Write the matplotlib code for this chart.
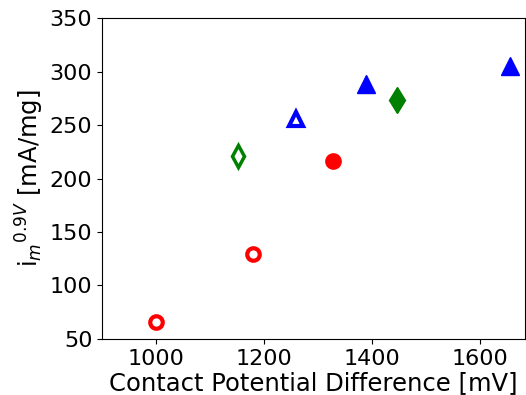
import matplotlib
matplotlib.use("Agg")
import matplotlib.pyplot as plt

## data
cpd_open_circ = [1000, 1180]
im_open_circ = [66, 129]
cpd_fill_circ = [1327]
im_fill_circ = [216]

cpd_open_dia = [1151]
im_open_dia = [221]
cpd_fill_dia = [1447]
im_fill_dia = [273]

cpd_open_tri = [1260]
im_open_tri = [256]
cpd_fill_tri = [1388, 1655]
im_fill_tri = [288, 305]

plt.rcParams['font.size'] = 16

fig = plt.figure(figsize=(5.26, 3.95), dpi=100)
ax = fig.add_axes([0.194, 0.142, 0.804, 0.812])

ax.plot(cpd_open_circ, im_open_circ, 'o', ls='none', mfc='none', mec='red', mew=3, ms=9)
ax.plot(cpd_fill_circ, im_fill_circ, 'o', ls='none', color='red', ms=11)
ax.plot(cpd_open_dia, im_open_dia, 'd', ls='none', mfc='none', mec='green', mew=2.5, ms=11)
ax.plot(cpd_fill_dia, im_fill_dia, 'd', ls='none', color='green', ms=13)
ax.plot(cpd_open_tri, im_open_tri, '^', ls='none', mfc='none', mec='blue', mew=3, ms=10)
ax.plot(cpd_fill_tri, im_fill_tri, '^', ls='none', color='blue', ms=13)

ax.set_xlim(900, 1683)
ax.set_ylim(50, 350)
ax.set_xticks([1000, 1200, 1400, 1600])
ax.set_yticks([50, 100, 150, 200, 250, 300, 350])
ax.set_xlabel('Contact Potential Difference [mV]', fontsize=17.5, labelpad=2)
ax.set_ylabel(r'i$_m$$^{0.9V}$ [mA/mg]', fontsize=17.5, labelpad=3)

fig.savefig('out.png', dpi=100)
